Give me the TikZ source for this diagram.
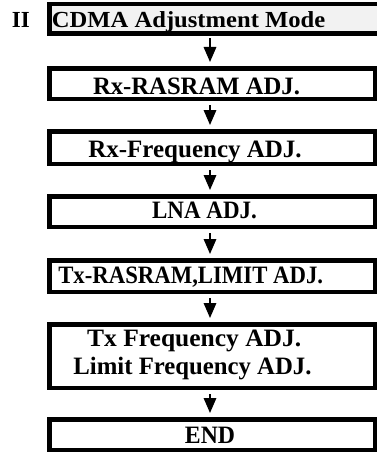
\documentclass[tikz,border=0pt]{standalone}
\usepackage{fontspec}
\usepackage{graphicx}
\setmainfont{Liberation Serif}
\usetikzlibrary{arrows.meta}

% horizontally stretch or squeeze a line of text
\newcommand\hfit[2]{\scalebox{#1}[1]{#2}}

\begin{document}
\begin{tikzpicture}[x=1pt,y=-1pt,
  stepbox/.style={draw=black,line width=4.5pt,fill=white,rectangle,
    inner sep=0pt,minimum width=325.5pt},
  headbox/.style={fill=black!5,rectangle,inner sep=0pt},
  label/.style={inner sep=0pt,anchor=base,
    font=\bfseries\fontsize{25}{30}\selectfont},
  headlabel/.style={inner sep=0pt,anchor=base west,
    font=\bfseries\fontsize{23}{28}\selectfont},
  flow/.style={line width=1.7pt,-{Triangle[width=12.5pt,length=15pt]},
    shorten <=4pt,shorten >=4pt}]
\useasboundingbox (0,0) rectangle (377,452);

% heading bar, open on its right side
\node[headbox,minimum width=340pt,minimum height=29.5pt,anchor=north west]
  (head) at (49.25,4.25) {};
\draw[line width=4.5pt] (390,4.25) -- (49.25,4.25) -- (49.25,33.75) -- (390,33.75);

% process steps
\node[stepbox,minimum height=30.5pt] (s1) at (212,83.5)  {};
\node[stepbox,minimum height=32.5pt] (s2) at (212,147.5) {};
\node[stepbox,minimum height=30.5pt] (s3) at (212,211.5) {};
\node[stepbox,minimum height=31.5pt] (s4) at (212,276)   {};
\node[stepbox,minimum height=63.5pt] (s5) at (212,356)   {};
\node[stepbox,minimum height=30.5pt] (s6) at (212,434.5) {};

% texts
\node[headlabel] (tnum)  at (11.7,27.3) {\hfit{1.0}{II}};
\node[headlabel] (thead) at (51.7,27.3) {\hfit{1.07}{CDMA Adjustment Mode}};
\node[label] (t1)  at (196.5,94)  {\hfit{0.987}{Rx-RASRAM ADJ.}};
\node[label] (t2)  at (195,157.5) {\hfit{1.0}{Rx-Frequency ADJ.}};
\node[label] (t3)  at (204.5,218) {\hfit{0.92}{LNA ADJ.}};
\node[label] (t4)  at (190.7,283) {\hfit{0.91}{Tx-RASRAM,LIMIT ADJ.}};
\node[label] (t5a) at (194.2,346.7) {\hfit{1.02}{Tx Frequency ADJ.}};
\node[label] (t5b) at (192.5,374) {\hfit{0.99}{Limit Frequency ADJ.}};
\node[label] (t6)  at (210,443)   {\hfit{0.95}{END}};

% connectors
\coordinate (col) at (210,0);
\draw[flow] (head.south -| col) -- (s1.north -| col);
\draw[flow] (s1.south -| col) -- (s2.north -| col);
\draw[flow] (s2.south -| col) -- (s3.north -| col);
\draw[flow] (s3.south -| col) -- (s4.north -| col);
\draw[flow] (s4.south -| col) -- (s5.north -| col);
\draw[flow] (s5.south -| col) -- (s6.north -| col);
\end{tikzpicture}
\end{document}
